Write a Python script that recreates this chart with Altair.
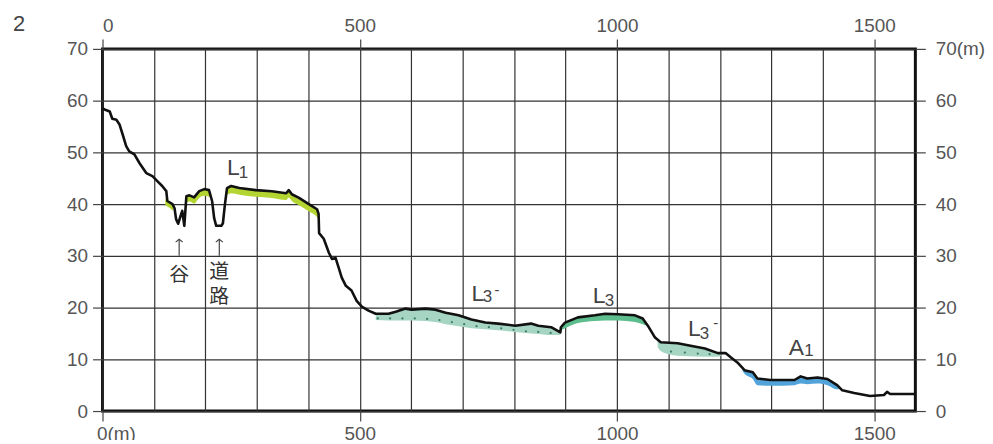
import altair as alt
import pandas as pd

# ---------------- data ----------------
profile_x = [0, 4, 14, 19, 27, 33, 39, 46, 52, 62, 72, 85, 97, 107, 116, 124, 126, 136, 140, 143, 147,
             153, 155, 159, 163, 169, 178, 188, 198, 207, 213, 217, 221, 231, 234, 238, 242, 250, 266,
             298, 329, 357, 362, 368, 382, 401, 417, 420, 421, 430, 440, 446, 453, 459, 465, 473, 484,
             494, 504, 517, 531, 556, 570, 589, 601, 628, 647, 667, 692, 717, 744, 769, 802, 833, 847,
             872, 890, 891, 899, 924, 957, 977, 1002, 1035, 1050, 1060, 1074, 1085, 1118, 1138, 1171,
             1196, 1211, 1221, 1234, 1248, 1264, 1273, 1298, 1345, 1357, 1370, 1390, 1409, 1428, 1438,
             1461, 1492, 1519, 1525, 1531, 1550, 1579]
profile_y = [58.5, 58.3, 57.9, 56.5, 56.3, 55.4, 53.5, 51.2, 50.2, 49.6, 47.9, 46.0, 45.4, 44.4, 43.5,
             42.5, 40.6, 40.0, 39.2, 37.1, 36.2, 38.1, 38.7, 35.8, 41.5, 41.7, 41.3, 42.5, 42.9, 42.7,
             40.6, 37.3, 35.8, 35.8, 36.3, 40.0, 43.1, 43.5, 43.1, 42.7, 42.5, 42.1, 42.7, 41.9, 41.2,
             40.0, 39.0, 38.1, 34.4, 33.3, 30.6, 29.4, 29.6, 27.7, 25.8, 24.2, 23.3, 21.3, 20.2, 19.4,
             18.8, 18.8, 19.2, 19.8, 19.6, 19.8, 19.6, 19.0, 18.5, 17.7, 17.1, 16.9, 16.5, 16.9, 16.5,
             16.2, 15.2, 16.2, 17.1, 18.1, 18.5, 18.8, 18.7, 18.5, 17.9, 16.5, 14.2, 13.3, 13.1, 12.7,
             12.1, 11.2, 11.2, 10.4, 9.4, 7.9, 7.5, 6.3, 6.0, 6.0, 6.7, 6.3, 6.5, 6.2, 5.0, 4.0, 3.5,
             2.9, 3.1, 3.7, 3.3, 3.3, 3.3]

# terrace bands: (segment id, terrace, x, upper, lower)
band_segments = [
    ("L1a", "L1", [122, 130, 137], [41.0, 40.6, 40.0], [39.8, 39.3, 38.7]),
    ("L1b", "L1", [163, 169, 178, 188, 198, 207, 211],
     [41.5, 41.7, 41.3, 42.5, 42.9, 42.7, 42.3],
     [40.3, 40.5, 40.1, 41.2, 41.6, 41.4, 41.1]),
    ("L1c", "L1", [242, 250, 266, 298, 329, 357, 362, 368, 382, 401, 417, 421],
     [43.1, 43.5, 43.1, 42.7, 42.5, 42.1, 42.7, 41.9, 41.2, 40.0, 39.0, 38.1],
     [41.8, 42.1, 41.8, 41.4, 41.2, 40.8, 41.3, 40.6, 39.8, 38.6, 37.5, 37.0]),
    ("L3m1", "L3-", [531, 556, 570, 589, 601, 628, 647, 667, 692, 717, 744, 769, 802, 833, 847, 872, 890],
     [18.8, 18.8, 19.2, 19.8, 19.6, 19.8, 19.6, 19.0, 18.5, 17.7, 17.1, 16.9, 16.5, 16.9, 16.5, 16.2, 15.2],
     [17.6, 17.5, 17.5, 17.5, 17.5, 17.4, 17.2, 16.8, 16.4, 16.0, 15.8, 15.6, 15.3, 15.0, 14.9, 14.7, 14.7]),
    ("L3", "L3", [891, 899, 924, 957, 977, 1002, 1035, 1050, 1058],
     [16.2, 17.1, 18.1, 18.5, 18.8, 18.7, 18.5, 17.9, 16.8],
     [15.6, 16.0, 17.0, 17.4, 17.5, 17.5, 17.2, 16.8, 16.5]),
    ("L3m2", "L3-", [1079, 1085, 1100, 1118, 1138, 1171, 1196, 1202],
     [13.6, 13.3, 13.2, 13.1, 12.7, 12.1, 11.2, 11.0],
     [12.4, 11.6, 11.0, 10.7, 10.6, 10.5, 10.5, 10.7]),
    ("A1", "A1", [1244, 1248, 1264, 1273, 1298, 1345, 1357, 1370, 1390, 1409, 1428, 1432],
     [8.3, 7.9, 7.5, 6.3, 6.0, 6.0, 6.7, 6.3, 6.5, 6.2, 5.0, 4.6],
     [7.8, 7.2, 6.2, 5.0, 4.9, 5.0, 5.3, 5.2, 5.3, 5.0, 4.2, 4.2]),
]
terrace_names = ["L1", "L3-", "L3", "A1"]
terrace_colors = ["#b3d431", "#a6d6c3", "#5dbd8c", "#52a3da"]

dots_x = [535, 559, 583, 607, 631, 655, 679, 703, 727, 751, 775, 799, 823, 847, 871,
          1105, 1132, 1157, 1180]
dots_y = [17.9, 17.9, 17.9, 17.9, 17.8, 17.6, 17.2, 16.8, 16.4, 16.2, 16.0, 15.7, 15.4, 15.3, 15.1,
          11.5, 11.3, 11.1, 11.0]

main_text = ["L", "L", "L", "L", "A"]
main_x = [242, 717, 953, 1138, 1334]
main_y = [45.6, 21.3, 20.8, 14.6, 10.8]
sub_text = ["1", "3", "3", "3", "1"]
sub_x = [265, 739, 976, 1161, 1364]
sub_y = [45.0, 21.0, 20.4, 14.0, 10.6]
sup_text = ["-", "-"]
sup_x = [762, 1187]
sup_y = [23.3, 17.1]

cjk_text = ["谷", "道", "路"]
cjk_x = [149, 227, 227]
cjk_y = [26.3, 26.9, 22.1]
arrow_x = [149, 227]
arrow_bottom = [30.0, 30.0]
arrow_top = [33.2, 33.2]

x_grid_values = list(range(0, 1600, 100))
x_label_values = [0, 500, 1000, 1500]
y_values = list(range(0, 80, 10))

# ---------------- frames ----------------
profile_df = pd.DataFrame({"x": profile_x, "y": profile_y})
rows = []
for seg, ter, xs, ups, lows in band_segments:
    for xv, u, l in zip(xs, ups, lows):
        rows.append({"seg": seg, "terrace": ter, "x": xv, "upper": u, "lower": l})
band_df = pd.DataFrame(rows)
dots_df = pd.DataFrame({"x": dots_x, "y": dots_y})
main_df = pd.DataFrame({"t": main_text, "x": main_x, "y": main_y})
sub_df = pd.DataFrame({"t": sub_text, "x": sub_x, "y": sub_y})
sup_df = pd.DataFrame({"t": sup_text, "x": sup_x, "y": sup_y})
cjk_df = pd.DataFrame({"t": cjk_text, "x": cjk_x, "y": cjk_y})
arrow_df = pd.DataFrame({"x": arrow_x, "y": arrow_bottom, "y2": arrow_top})

FONT = "Liberation Sans"
LABEL_COLOR = "#555555"
xscale = alt.Scale(domain=[0, 1580], nice=False, zero=False)
yscale = alt.Scale(domain=[0, 70], nice=False)

bottom_axis = alt.Axis(
    orient="bottom", values=x_grid_values, grid=True, gridColor="#333333", gridWidth=1.2,
    domain=False, tickSize=10, tickColor="#444", tickWidth=1.2, format="d",
    tickOpacity={"condition": {"test": "datum.value % 500 === 0", "value": 1}, "value": 0},
    labelExpr="datum.value % 500 === 0 ? (datum.value === 0 ? '0(m)' : datum.label) : ''",
    labelAlign={"condition": {"test": "datum.value === 0", "value": "left"}, "value": "center"},
    labelOffset={"condition": {"test": "datum.value === 0", "value": -6}, "value": 0},
    labelFont=FONT, labelFontSize=19, labelColor=LABEL_COLOR, labelPadding=4,
    labelOverlap=False, title=None,
)
left_axis = alt.Axis(
    orient="left", values=y_values, grid=True, gridColor="#333333", gridWidth=1.2,
    domain=False, tickSize=10, tickColor="#444", tickWidth=1.2, format="d",
    labelFont=FONT, labelFontSize=19, labelColor=LABEL_COLOR, labelPadding=5, title=None,
)
top_axis = alt.Axis(
    orient="top", values=x_label_values, grid=False, domain=False, tickSize=10, format="d",
    tickColor="#444", tickWidth=1.2, labelFont=FONT, labelFontSize=19,
    labelColor=LABEL_COLOR, labelPadding=3, title=None, labelOverlap=False,
)
right_axis = alt.Axis(
    orient="right", values=y_values, grid=False, domain=False, tickSize=10, format="d",
    tickColor="#444", tickWidth=1.2, labelFont=FONT, labelFontSize=19,
    labelColor=LABEL_COLOR, labelPadding=10, title=None,
    labelExpr="datum.value === 70 ? '70(m)' : datum.label",
)

bands = alt.Chart(band_df).mark_area(opacity=1, interpolate="monotone").encode(
    x=alt.X("x:Q", scale=xscale, axis=top_axis),
    y=alt.Y("upper:Q", scale=yscale, axis=right_axis),
    y2="lower:Q",
    color=alt.Color("terrace:N", scale=alt.Scale(domain=terrace_names, range=terrace_colors), legend=None),
    detail="seg:N",
)

dots = alt.Chart(dots_df).mark_circle(size=5, color="#3c7a68", opacity=1).encode(
    x=alt.X("x:Q", scale=xscale, axis=None),
    y=alt.Y("y:Q", scale=yscale, axis=None),
)

line_grid = alt.Chart(profile_df).mark_line(opacity=0).encode(
    x=alt.X("x:Q", scale=xscale, axis=bottom_axis),
    y=alt.Y("y:Q", scale=yscale, axis=left_axis),
)
line = alt.Chart(profile_df).mark_line(color="#111111", strokeWidth=2.6, strokeJoin="round").encode(
    x=alt.X("x:Q", scale=xscale, axis=None),
    y=alt.Y("y:Q", scale=yscale, axis=None),
)

arrows = alt.Chart(arrow_df).mark_rule(color="#444", strokeWidth=1.2).encode(
    x=alt.X("x:Q", scale=xscale, axis=None),
    y=alt.Y("y:Q", scale=yscale, axis=None),
    y2="y2:Q",
)
heads = alt.Chart(arrow_df).mark_point(
    shape="M-1,0.8L0,0L1,0.8", size=50, filled=False, color="#444", strokeWidth=1.2, opacity=1
).encode(
    x=alt.X("x:Q", scale=xscale, axis=None),
    y=alt.Y("y2:Q", scale=yscale, axis=None),
)

cjk = alt.Chart(cjk_df).mark_text(
    font="Noto Sans CJK JP", fontSize=20, color="#333", align="center", baseline="middle"
).encode(
    x=alt.X("x:Q", scale=xscale, axis=None),
    y=alt.Y("y:Q", scale=yscale, axis=None),
    text="t:N",
)

main_lbl = alt.Chart(main_df).mark_text(
    font=FONT, fontSize=23, color="#444", align="left", baseline="alphabetic"
).encode(
    x=alt.X("x:Q", scale=xscale, axis=None),
    y=alt.Y("y:Q", scale=yscale, axis=None),
    text="t:N",
)
sub_lbl = alt.Chart(sub_df).mark_text(
    font=FONT, fontSize=17, color="#444", align="left", baseline="alphabetic"
).encode(
    x=alt.X("x:Q", scale=xscale, axis=None),
    y=alt.Y("y:Q", scale=yscale, axis=None),
    text="t:N",
)
sup_lbl = alt.Chart(sup_df).mark_text(
    font=FONT, fontSize=15, color="#444", align="left", baseline="middle"
).encode(
    x=alt.X("x:Q", scale=xscale, axis=None),
    y=alt.Y("y:Q", scale=yscale, axis=None),
    text="t:N",
)

panel_no = alt.Chart(pd.DataFrame({"t": ["2"]})).mark_text(
    font=FONT, fontSize=22, color="#444", align="left", baseline="middle"
).encode(
    x=alt.value(-90), y=alt.value(-25), text="t:N"
)

chart = alt.layer(
    line_grid, bands, dots, line,
    arrows, heads, cjk, main_lbl, sub_lbl, sup_lbl, panel_no,
).properties(
    width=817, height=364,
    autosize=alt.AutoSizeParams(type="none"),
    padding={"left": 95, "top": 40, "right": 70, "bottom": 28},
).configure_view(stroke="#111111", strokeWidth=3)

chart.save("out.html", embed_options={"renderer": "svg", "actions": False})
